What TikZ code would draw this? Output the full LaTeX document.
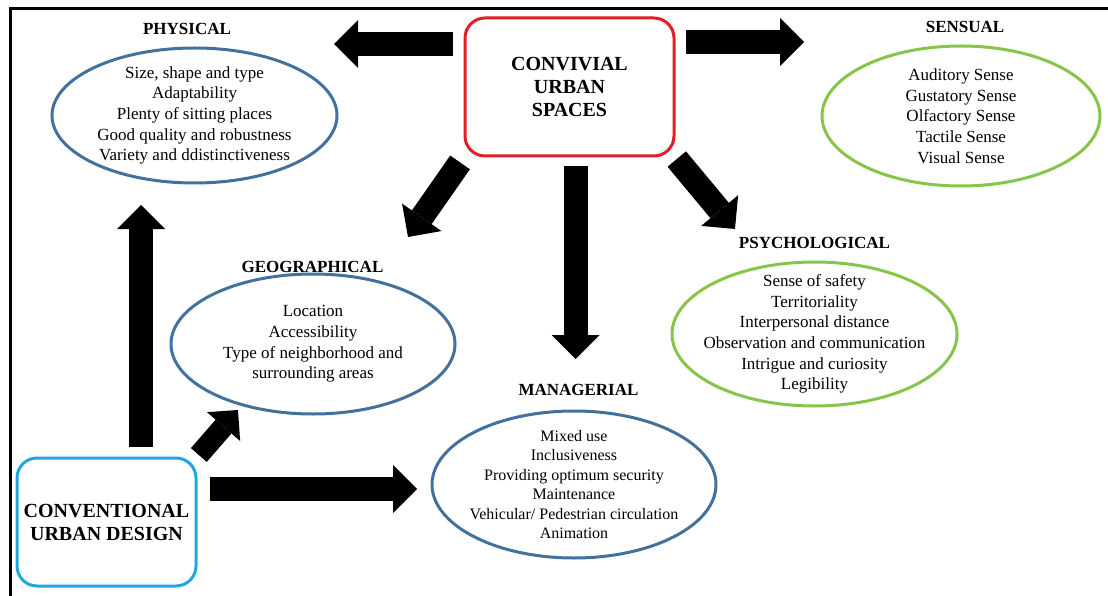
\documentclass[tikz,border=0pt]{standalone}
\usepackage{fontspec}
\setmainfont{LiberationSerif}[Extension=.ttf, UprightFont=*-Regular, BoldFont=*-Bold]
\usetikzlibrary{arrows.meta, positioning, shapes.geometric}
\usepackage{xcolor}
\definecolor{ellblue}{RGB}{65,113,156}
\definecolor{ellgreen}{RGB}{134,196,74}
\definecolor{boxred}{RGB}{228,28,36}
\definecolor{boxcyan}{RGB}{30,168,222}
\def\linesep{20.7pt}

\begin{document}
\begin{tikzpicture}[x=1pt,y=-1pt]
    \tikzstyle{factor}=[ellipse, line width=3pt, minimum width=285pt, minimum height=135pt, inner sep=-15pt, align=center, font=\fontsize{17}{\linesep}\selectfont]
    \tikzstyle{headbox}=[rectangle, rounded corners=20pt, line width=3pt, inner sep=0pt, align=center, font=\bfseries\fontsize{20}{23}\selectfont]
    \tikzstyle{title}=[inner sep=0pt, font=\bfseries\fontsize{17}{20}\selectfont]
    \tikzstyle{fat}=[draw=black, line width=24pt, -{Triangle[length=24pt,width=48pt,line width=0pt]}]
    \tikzstyle{slimfat}=[draw=black, line width=21pt, -{Triangle[length=22pt,width=44pt,line width=0pt]}]

    \useasboundingbox (0,0) rectangle (1108,596);
    \draw[line width=3pt] (10,596) -- (10,8.5) -- (1108,8.5);

%   the two starting boxes
    \node[headbox, draw=boxred, minimum width=209pt, minimum height=138pt] (cus) at (569.5,87) {CONVIVIAL\\URBAN\\SPACES};
    \node[headbox, draw=boxcyan, minimum width=179pt, minimum height=128pt] (cud) at (106.5,522) {CONVENTIONAL\\URBAN DESIGN};

%   the five factors
    \node[factor, draw=ellblue] (phys) at (194.5,115.5) {Size, shape and type\\Adaptability\\Plenty of sitting places\\Good quality and robustness\\Variety and ddistinctiveness};
    \node[title] (phys-t) at (187,28.5) {PHYSICAL};

    \node[factor, draw=ellgreen, minimum width=278pt, minimum height=140pt] (sens) at (961,116) {Auditory Sense\\Gustatory Sense\\Olfactory Sense\\Tactile Sense\\Visual Sense};
    \node[title] (sens-t) at (965,27) {SENSUAL};

    \node[factor, draw=ellblue, minimum width=284pt, minimum height=140pt] (geo) at (313,344) {Location\\Accessibility\\Type of neighborhood and\\surrounding areas};
    \node[title] (geo-t) at (312.5,267) {GEOGRAPHICAL};

    \node[factor, draw=ellgreen, minimum width=285pt, minimum height=144pt] (psy) at (814.5,334) {Sense of safety\\Territoriality\\Interpersonal distance\\Observation and communication\\Intrigue and curiosity\\Legibility};
    \node[title] (psy-t) at (814.5,243) {PSYCHOLOGICAL};

    \node[factor, draw=ellblue, minimum width=284pt, minimum height=147pt, font=\fontsize{16}{19.5}\selectfont] (man) at (574,484.5) {Mixed use\\Inclusiveness\\Providing optimum security\\Maintenance\\Vehicular/ Pedestrian circulation\\Animation};
    \node[title] (man-t) at (578.5,390) {MANAGERIAL};

%   arrow tips
    \coordinate (phys-in) at (334,44);
    \coordinate (sens-in) at (804,42);
    \coordinate (geo-in) at (408,237);
    \coordinate (man-in) at (575.5,359);
    \coordinate (psy-in) at (735,229);
    \coordinate (phys-in2) at (141,205);
    \coordinate (geo-in2) at (238,410);
    \coordinate (man-in2) at (417,489);

    \draw[fat, shorten <=11pt] (cus.west |- phys-in) -- (phys-in);
    \draw[fat, shorten <=10pt] (cus.east |- sens-in) -- (sens-in);
    \draw[fat, shorten <=6pt] (cus.south west) -- (geo-in);
    \draw[fat, shorten <=9pt] (cus.south -| man-in) -- (man-in);
    \draw[fat, shorten <=2pt] (cus.south east) -- (psy-in);

    \draw[fat, shorten <=10pt] (cud.north -| phys-in2) -- (phys-in2);
    \draw[slimfat, shorten <=2pt] (cud.north east) -- (geo-in2);
    \draw[fat, shorten <=12pt] (cud.east |- man-in2) -- (man-in2);
\end{tikzpicture}
\end{document}
